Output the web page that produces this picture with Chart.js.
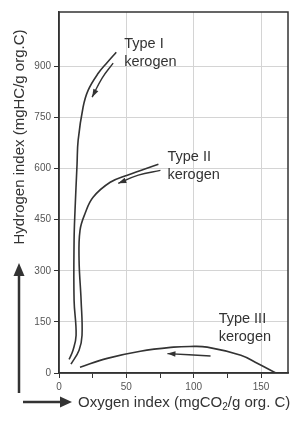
<!DOCTYPE html>
<html>
<head>
<meta charset="utf-8">
<script src="https://cdn.jsdelivr.net/npm/chart.js@4.4.1/dist/chart.umd.min.js"></script>
<style>
  html, body { margin: 0; padding: 0; background: #fff; }
</style>
</head>
<body>
<canvas id="vanKrevelen" width="303" height="424"></canvas>
<script>
// kerogen maturation paths (oxygen index, hydrogen index)
const typeIX   = [42.5, 35.8, 29.1, 21.6, 17.9, 14.2, 13.4, 11.9, 11.2, 11.2, 12.7, 10.4, 7.5];
const typeIY   = [942, 912, 880, 830, 781, 683, 613, 478, 390, 213, 111, 67, 40];
const typeIIX  = [73.8, 50.7, 38.0, 25.3, 19.4, 15.6, 14.9, 16.4, 17.1, 14.9, 8.9];
const typeIIY  = [613, 581, 560, 516, 469, 419, 331, 214, 111, 67, 26];
const typeIIIX = [15.6, 35.8, 60.4, 85, 97, 110, 135, 147.5, 161];
const typeIIIY = [17, 43, 64, 76, 78, 76, 52, 28, 0];

// direction arrows beside each path
const arrowIX   = [40.2, 32, 24.6];
const arrowIY   = [910, 866, 810];
const arrowIIX  = [75.3, 58.9, 44];
const arrowIIY  = [595, 581, 557];
const arrowIIIX = [112.5, 80.5];
const arrowIIIY = [50, 57];

// labels: text lines + anchor in data units
const labelText = [['Type I', 'kerogen'], ['Type II', 'kerogen'], ['Type III', 'kerogen']];
const labelX    = [48.4, 80.5, 118.5];
const labelY    = [966, 634, 160];

const xTicks = [0, 25, 50, 75, 100, 125, 150];
const yTicks = [0, 150, 300, 450, 600, 750, 900];

const pts = (xs, ys) => xs.map((x, i) => ({ x, y: ys[i] }));
const INK = '#333';

const path = (xs, ys) => ({
  data: pts(xs, ys), showLine: true, pointRadius: 0,
  borderColor: INK, borderWidth: 1.6, tension: 0.4, fill: false
});
const arrow = (xs, ys) => ({
  data: pts(xs, ys), showLine: true, pointRadius: 0, arrow: true,
  borderColor: INK, borderWidth: 1.4, tension: 0.4, fill: false
});

function head(ctx, fx, fy, tx, ty, len, half) {
  const a = Math.atan2(ty - fy, tx - fx);
  ctx.beginPath();
  ctx.moveTo(tx, ty);
  ctx.lineTo(tx - len * Math.cos(a) + half * Math.sin(a), ty - len * Math.sin(a) - half * Math.cos(a));
  ctx.lineTo(tx - len * Math.cos(a) - half * Math.sin(a), ty - len * Math.sin(a) + half * Math.cos(a));
  ctx.closePath();
  ctx.fill();
}

const decor = {
  id: 'decor',
  afterDraw(chart) {
    const { ctx, chartArea: a, scales: { x, y } } = chart;
    ctx.save();
    ctx.strokeStyle = INK; ctx.fillStyle = INK;

    // frame round the plot
    ctx.lineWidth = 1.5;
    ctx.strokeRect(a.left, a.top, a.right - a.left, a.bottom - a.top);

    // arrow heads on the direction arrows
    chart.data.datasets.forEach((ds, i) => {
      if (!ds.arrow) return;
      const p = chart.getDatasetMeta(i).data;
      const e = p[p.length - 1], s = p[p.length - 2];
      head(ctx, s.x, s.y, e.x, e.y, 8, 2.8);
    });

    // kerogen labels
    ctx.font = '14.5px "Liberation Sans", Arial, sans-serif';
    ctx.textAlign = 'left'; ctx.textBaseline = 'middle';
    labelText.forEach((lines, i) => {
      const px = x.getPixelForValue(labelX[i]), py = y.getPixelForValue(labelY[i]);
      lines.forEach((t, j) => ctx.fillText(t, px, py + j * 18));
    });

    // y axis title
    ctx.save();
    ctx.translate(20, 137);
    ctx.rotate(-Math.PI / 2);
    ctx.font = '15px "Liberation Sans", Arial, sans-serif';
    ctx.textAlign = 'center';
    ctx.fillText('Hydrogen index (mgHC/g org.C)', 0, 0);
    ctx.restore();

    // x axis title with subscript
    ctx.textBaseline = 'alphabetic';
    let tx = 78;
    const base = 407;
    ctx.font = '15px "Liberation Sans", Arial, sans-serif';
    ctx.fillText('Oxygen index (mgCO', tx, base);
    tx += ctx.measureText('Oxygen index (mgCO').width;
    ctx.font = '10px "Liberation Sans", Arial, sans-serif';
    ctx.fillText('2', tx, base + 3);
    tx += ctx.measureText('2').width;
    ctx.font = '15px "Liberation Sans", Arial, sans-serif';
    ctx.fillText('/g org. C)', tx, base);

    // big axis arrows
    ctx.lineWidth = 2.5;
    ctx.beginPath(); ctx.moveTo(19, 393); ctx.lineTo(19, 272); ctx.stroke();
    head(ctx, 19, 300, 19, 263, 13, 5.5);
    ctx.beginPath(); ctx.moveTo(23, 402); ctx.lineTo(62, 402); ctx.stroke();
    head(ctx, 40, 402, 72, 402, 12, 5.5);

    ctx.restore();
  }
};

new Chart(document.getElementById('vanKrevelen'), {
  type: 'scatter',
  data: {
    datasets: [
      path(typeIX, typeIY),
      path(typeIIX, typeIIY),
      path(typeIIIX, typeIIIY),
      arrow(arrowIX, arrowIY),
      arrow(arrowIIX, arrowIIY),
      arrow(arrowIIIX, arrowIIIY)
    ]
  },
  options: {
    responsive: false,
    animation: false,
    devicePixelRatio: 1,
    layout: { padding: { top: 12, right: 15, left: 0, bottom: 0 } },
    plugins: { legend: { display: false }, tooltip: { enabled: false } },
    scales: {
      x: {
        type: 'linear', min: 0, max: 170,
        afterBuildTicks: s => { s.ticks = xTicks.map(v => ({ value: v })); },
        afterFit: s => { s.height = 51; },
        ticks: {
          callback: v => (v % 50 === 0 ? v : ''),
          color: '#555', font: { family: '"Liberation Sans", Arial', size: 10 }, padding: 3
        },
        grid: {
          color: c => (c.tick && c.tick.value > 0 && c.tick.value % 50 === 0 ? '#d4d4d4' : 'rgba(0,0,0,0)'),
          tickColor: INK, tickLength: 5, lineWidth: 1
        },
        border: { color: INK, width: 1.5 }
      },
      y: {
        type: 'linear', min: 0, max: 1060,
        afterBuildTicks: s => { s.ticks = yTicks.map(v => ({ value: v })); },
        afterFit: s => { s.width = 59; },
        ticks: { color: '#555', font: { family: '"Liberation Sans", Arial', size: 10 }, padding: 3 },
        grid: {
          color: c => (c.tick && c.tick.value > 0 ? '#d4d4d4' : 'rgba(0,0,0,0)'),
          tickColor: INK, tickLength: 5, lineWidth: 1
        },
        border: { color: INK, width: 1.5 }
      }
    }
  },
  plugins: [decor]
});
</script>
</body>
</html>
